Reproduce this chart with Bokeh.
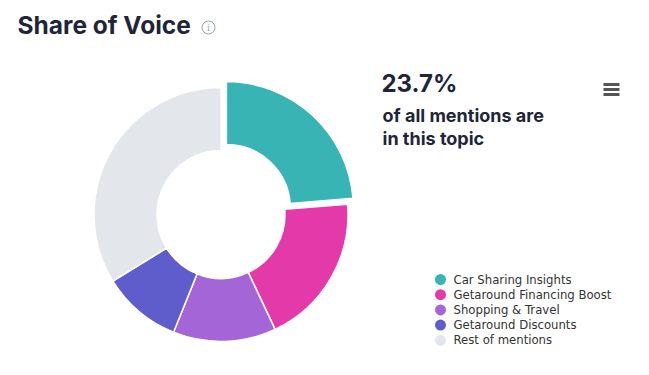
import numpy as np
from bokeh.plotting import figure
from bokeh.models import Range1d, ColumnDataSource
from bokeh.core.properties import value
from bokeh.embed import file_html
from bokeh.resources import INLINE

# ---- data ----
categories = ["Car Sharing Insights", "Getaround Financing Boost", "Shopping & Travel",
              "Getaround Discounts", "Rest of mentions"]
shares = [23.7, 19.3, 13.1, 10.1, 33.8]
colors = ["#38b4b4", "#e43aa9", "#a466d6", "#5f5dcb", "#e3e7eb"]
title_text = "Share of Voice"
headline = "23.7%"
sub_lines = ["of all mentions are", "in this topic"]

W, H = 649, 375
p = figure(width=W, height=H, output_backend="svg", toolbar_location=None,
           x_range=Range1d(0, W), y_range=Range1d(0, H), min_border=0)
p.axis.visible = False
p.grid.visible = False
p.outline_line_color = None
p.background_fill_color = "white"
p.border_fill_color = "white"

def Y(y):
    return H - y

# ---- donut ----
cx, cy = 220.5, Y(214)
r_out, r_in = 127, 64
vals = np.array(shares, dtype=float)
frac = vals / vals.sum()
ends = np.pi / 2 - 2 * np.pi * np.cumsum(frac)
starts = np.concatenate([[np.pi / 2], ends[:-1]])
mids = (starts + ends) / 2
offset = np.array([8.0, 0, 0, 0, 0])
src = ColumnDataSource(dict(
    x=cx + offset * np.cos(mids), y=cy + offset * np.sin(mids),
    start=ends, end=starts, color=colors))
p.annular_wedge(x="x", y="y", inner_radius=r_in, outer_radius=r_out,
                start_angle="start", end_angle="end", fill_color="color",
                line_color="white", line_width=1.5, source=src)

# ---- title ----
p.text(x=[17], y=[Y(24)], text=[title_text], text_font=value("Inter"),
       text_font_size="24.5px", text_font_style="bold", text_color="#1e2538",
       text_baseline="middle", text_align="left")
# info icon
p.scatter(x=[208], y=[Y(27)], size=13, marker="circle", fill_color=None,
          line_color="#9aa3b5", line_width=1)
p.text(x=[208], y=[Y(27)], text=["i"], text_font=value("DejaVu Serif"),
       text_font_size="9px", text_color="#9aa3b5", text_baseline="middle",
       text_align="center")

# ---- headline ----
p.text(x=[381], y=[Y(83)], text=[headline], text_font=value("Inter"),
       text_font_size="24px", text_font_style="bold", text_color="#1e2538",
       text_baseline="middle", text_align="left")
p.text(x=[382, 382], y=[Y(115), Y(138)], text=sub_lines, text_font=value("Inter"),
       text_font_size="18px", text_font_style="bold", text_color="#1e2538",
       text_baseline="middle", text_align="left")

# hamburger
p.segment(x0=[603] * 3, x1=[619] * 3, y0=[Y(84), Y(89), Y(94)],
          y1=[Y(84), Y(89), Y(94)], line_color="#555555", line_width=3)

# ---- legend ----
ly = Y(279) - 15.2 * np.arange(len(categories))
p.scatter(x=[440] * len(categories), y=ly, size=11, marker="circle",
          fill_color=colors, line_color=None)
p.text(x=[453] * len(categories), y=ly, text=categories,
       text_font=value("DejaVu Sans"), text_font_size="11.7px",
       text_color="#333333", text_baseline="middle", text_align="left")

open("out.html", "w").write(file_html(p, INLINE))
